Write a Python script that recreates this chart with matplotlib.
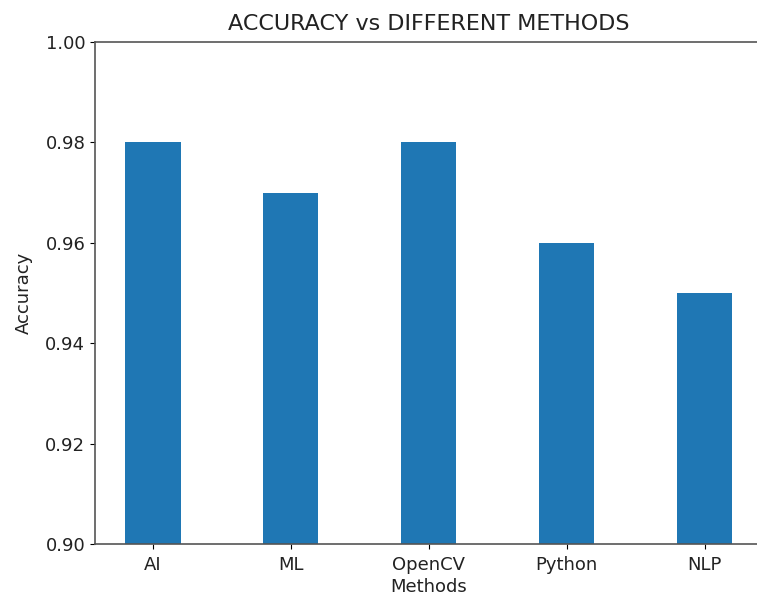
import numpy as np
import matplotlib
matplotlib.use('Agg')
import matplotlib.pyplot as plt

methods = ['AI', 'ML', 'OpenCV', 'Python', 'NLP']
accuracy = [0.98, 0.97, 0.98, 0.96, 0.95]

plt.rcParams['font.size'] = 13
plt.rcParams['text.color'] = '#222222'
plt.rcParams['xtick.labelcolor'] = '#222222'
plt.rcParams['ytick.labelcolor'] = '#222222'
plt.rcParams['axes.labelcolor'] = '#222222'

fig = plt.figure(figsize=(7.57, 6.00), dpi=100)
ax = fig.add_axes([0.1255, 0.0933, 0.882, 0.8367])

x = np.arange(len(methods))
ax.bar(x, accuracy, width=0.4, color='#1f77b4')
ax.set_xticks(x)
ax.set_xticklabels(methods)
ax.set_ylim(0.90, 1.00)
ax.set_xlim(-0.42, 4.42)
ax.tick_params(axis='x', pad=5)
for s in ax.spines.values():
    s.set_color('#555555')
    s.set_linewidth(1.2)

ax.set_title('ACCURACY vs DIFFERENT METHODS', fontsize=16, pad=9)
ax.set_xlabel('Methods', labelpad=3)
ax.set_ylabel('Accuracy', labelpad=9)

fig.savefig('out.png', dpi=100)
